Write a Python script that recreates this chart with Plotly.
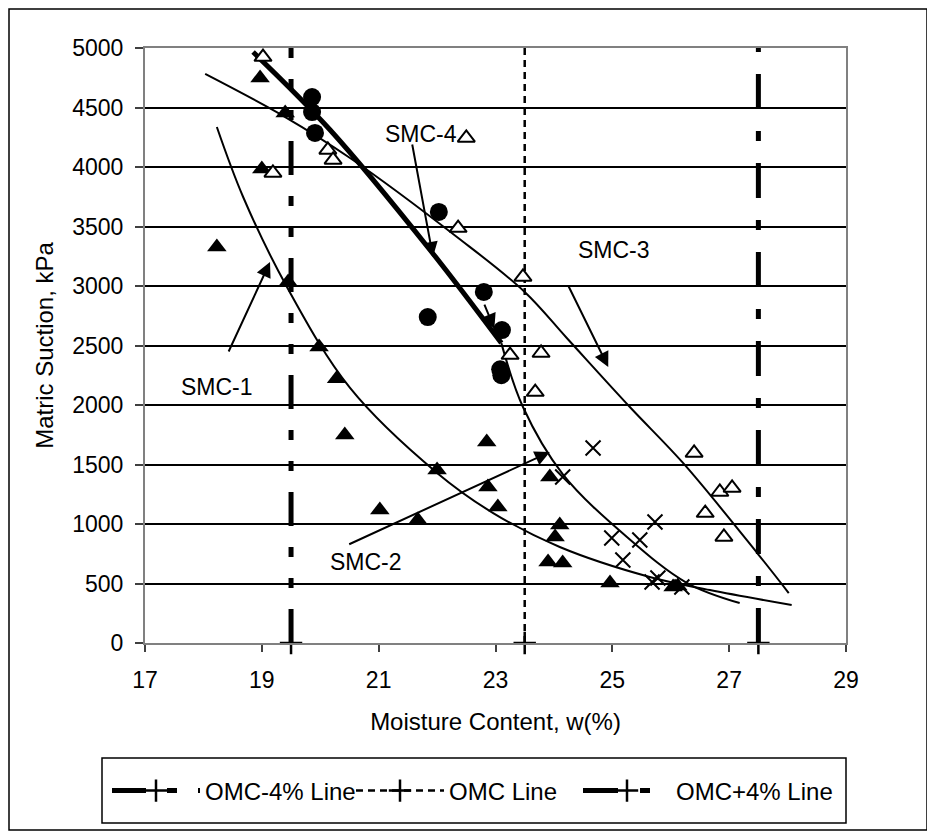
import plotly.graph_objects as go

# ---------------- data ----------------
# SMC-1 : filled triangles
smc1_w = [18.97, 19.40, 19.00, 18.23, 19.45, 19.98, 20.28, 20.42, 22.85, 22.00, 22.87, 23.04,
          21.02, 21.67, 23.93, 24.10, 24.02, 23.90, 24.15, 24.96, 26.04, 26.12]
smc1_s = [4748, 4454, 3983, 3328, 3034, 2487, 2220, 1748, 1689, 1454, 1311, 1143,
          1118, 1034, 1395, 992, 891, 681, 672, 504, 471, 480]
# SMC-2 : crosses
smc2_w = [24.15, 24.67, 24.99, 25.18, 25.47, 25.73, 25.68, 25.78, 26.19]
smc2_s = [1395, 1639, 882, 697, 866, 1017, 513, 546, 471]
# SMC-3 : open triangles
smc3_w = [19.02, 19.19, 20.13, 20.22, 22.50, 22.36, 23.47, 23.25, 23.78, 23.68,
          26.40, 26.84, 27.05, 26.59, 26.91]
smc3_s = [4924, 3950, 4143, 4059, 4244, 3487, 3076, 2420, 2437, 2109,
          1597, 1269, 1303, 1092, 891]
# SMC-4 : filled circles
smc4_w = [19.86, 19.86, 19.91, 22.03, 22.80, 21.84, 23.11, 23.08, 23.10]
smc4_s = [4588, 4462, 4286, 3622, 2950, 2739, 2630, 2300, 2250]

# fitted curves
fit1_w = [18.23, 18.68, 19.43, 20.51, 22.00, 22.96, 24.10, 25.64, 26.67, 28.07]
fit1_s = [4336, 3748, 2992, 2143, 1429, 1092, 807, 555, 445, 319]
fit2_w = [23.10, 23.47, 24.15, 25.25, 26.28, 27.18]
fit2_s = [2520, 1983, 1420, 891, 504, 336]
fit3_w = [18.03, 19.40, 20.51, 22.34, 23.50, 24.22, 25.30, 26.21, 27.48, 28.02]
fit3_s = [4782, 4420, 4076, 3412, 2950, 2563, 1983, 1513, 756, 420]
fit4_w = [18.85, 20.17, 21.88, 23.10]
fit4_s = [4966, 4311, 3303, 2520]

# reference moisture lines
omc_names = ["OMC-4% Line", "OMC Line", "OMC+4% Line"]
omc_w = [19.5, 23.5, 27.5]
omc_s = [0, 5000]

# labels and arrows: (text, x, y) and (head x, head y, tail x, tail y)
labels = [("SMC-4", 21.72, 4277), ("SMC-3", 25.03, 3303), ("SMC-1", 18.23, 2151), ("SMC-2", 20.78, 681)]
arrows = [(21.93, 3244, 21.57, 4202), (24.93, 2319, 24.24, 3008), (19.14, 3202, 18.42, 2437),
          (23.93, 1605, 20.47, 824), (22.98, 2640, 22.80, 2857)]

x_ticks = [17, 19, 21, 23, 25, 27, 29]
y_ticks = [0, 500, 1000, 1500, 2000, 2500, 3000, 3500, 4000, 4500, 5000]

# ---------------- figure ----------------
OFF = 8                       # page body margin
W, H = 935 - OFF, 836 - OFF
L, T = 145 - OFF, 48 - OFF
R, B = W - (846 - OFF), H - (643 - OFF)
pw, ph = W - L - R, H - T - B


def px_x(p):                  # page pixel -> paper
    return (p - OFF - L) / pw


def px_y(p):
    return (H - B - (p - OFF)) / ph


FONT = "Arial, Liberation Sans, sans-serif"
fig = go.Figure()

# vertical OMC lines
dashes = ["34px,21px,10px,21px,10px,21px", "7px,5px", "35px,22px,10px,22px"]
widths = [5, 2.5, 5]
lwidths = [141, 124, 170]
for name, w, d, lw, lgw in zip(omc_names, omc_w, dashes, widths, lwidths):
    fig.add_trace(go.Scatter(
        x=[w, w], y=omc_s, mode="lines+markers", name=name, legendwidth=lgw,
        line=dict(color="black", width=lw, dash=d),
        marker=dict(symbol="cross-thin", size=16, color=["black", "rgba(0,0,0,0)"],
                    line=dict(color=["black", "rgba(0,0,0,0)"], width=2.5)),
        cliponaxis=False, showlegend=True))

# fitted curves
for fw, fs, lw in [(fit1_w, fit1_s, 2), (fit2_w, fit2_s, 2), (fit3_w, fit3_s, 2), (fit4_w, fit4_s, 5)]:
    fig.add_trace(go.Scatter(x=fw, y=fs, mode="lines", showlegend=False,
                             line=dict(color="black", width=lw, shape="spline")))

# data markers
fig.add_trace(go.Scatter(x=smc1_w, y=smc1_s, mode="markers", showlegend=False,
                         marker=dict(symbol="triangle-up", size=17, color="black")))
fig.add_trace(go.Scatter(x=smc2_w, y=smc2_s, mode="markers", showlegend=False,
                         marker=dict(symbol="x-thin", size=15, color="black",
                                     line=dict(color="black", width=2))))
fig.add_trace(go.Scatter(x=smc3_w, y=smc3_s, mode="markers", showlegend=False,
                         marker=dict(symbol="triangle-up", size=15, color="white",
                                     line=dict(color="black", width=2))))
fig.add_trace(go.Scatter(x=smc4_w, y=smc4_s, mode="markers", showlegend=False,
                         marker=dict(symbol="circle", size=18, color="black")))

annotations = []
for t, x, y in labels:
    annotations.append(dict(x=x, y=y, xref="x", yref="y", text=t, showarrow=False,
                            font=dict(family=FONT, size=23, color="black")))
for hx, hy, tx, ty in arrows:
    annotations.append(dict(x=hx, y=hy, ax=tx, ay=ty, xref="x", yref="y", axref="x", ayref="y",
                            text="", showarrow=True, arrowhead=2, arrowsize=1.5, arrowwidth=2,
                            arrowcolor="black", standoff=0))

shapes = [
    dict(type="rect", xref="paper", yref="paper", x0=px_x(9), x1=px_x(927), y0=px_y(830), y1=px_y(9),
         line=dict(color="black", width=1.5), fillcolor="rgba(0,0,0,0)", layer="below"),
    dict(type="rect", xref="paper", yref="paper", x0=px_x(102), x1=px_x(846), y0=px_y(823), y1=px_y(758),
         line=dict(color="black", width=1.5), fillcolor="rgba(0,0,0,0)", layer="below"),
]

fig.update_layout(
    width=W, height=H,
    margin=dict(l=L, r=R, t=T, b=B, autoexpand=False),
    paper_bgcolor="white", plot_bgcolor="white",
    font=dict(family=FONT, size=23, color="black"),
    annotations=annotations, shapes=shapes,
    legend=dict(orientation="h", x=px_x(107), y=px_y(791), xanchor="left", yanchor="middle",
                bgcolor="rgba(0,0,0,0)", borderwidth=0, itemwidth=88,
                font=dict(family=FONT, size=24, color="black")),
)
fig.update_xaxes(range=[17, 29], tickvals=x_ticks, ticktext=[str(v) for v in x_ticks],
                 showgrid=False, zeroline=False, showline=True, linecolor="#808080", linewidth=2,
                 mirror=True, ticks="outside", ticklen=7, tickwidth=1.5, tickcolor="#404040",
                 ticklabelstandoff=8, tickfont=dict(family=FONT, size=23, color="black"),
                 title=dict(text="Moisture Content, w(%)", standoff=22,
                            font=dict(family=FONT, size=24, color="black")))
fig.update_yaxes(range=[0, 5000], tickvals=y_ticks, ticktext=[str(v) for v in y_ticks],
                 showgrid=True, gridcolor="black", gridwidth=2, zeroline=False,
                 showline=True, linecolor="#808080", linewidth=2, mirror=True,
                 ticks="outside", ticklen=8, tickwidth=1.5, tickcolor="#404040",
                 ticklabelstandoff=7, tickfont=dict(family=FONT, size=23, color="black"),
                 title=dict(text="Matric Suction, kPa", standoff=12,
                            font=dict(family=FONT, size=24, color="black")))

fig.write_html("out.html")
